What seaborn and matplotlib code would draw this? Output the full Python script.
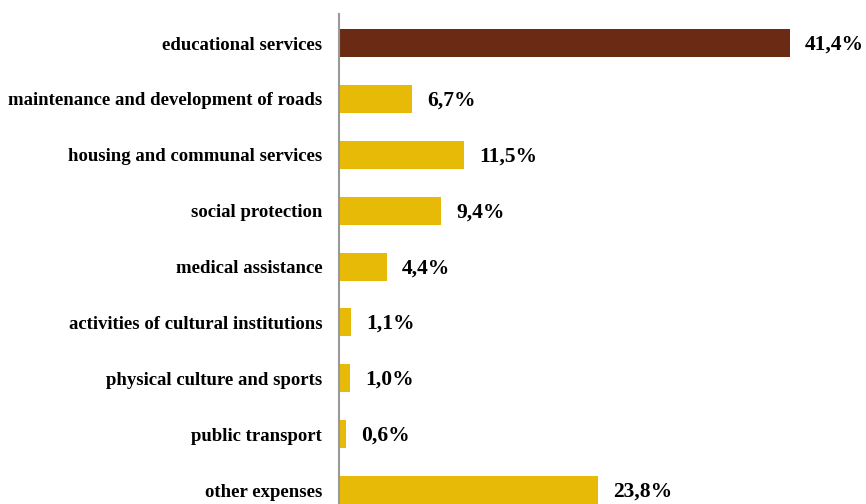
import matplotlib
matplotlib.use("Agg")
import matplotlib.pyplot as plt
import seaborn as sns
import pandas as pd

categories = [
    "educational services",
    "maintenance and development of roads",
    "housing and communal services",
    "social protection",
    "medical assistance",
    "activities of cultural institutions",
    "physical culture and sports",
    "public transport",
    "other expenses",
]
shares = [41.4, 6.7, 11.5, 9.4, 4.4, 1.1, 1.0, 0.6, 23.8]
value_labels = ["41,4%", "6,7%", "11,5%", "9,4%", "4,4%", "1,1%", "1,0%", "0,6%", "23,8%"]

brown = "#6B2A14"
gold = "#E6BA06"
colors = [brown] + [gold] * (len(categories) - 1)

df = pd.DataFrame({"category": categories, "share": shares})

sns.set_style("white")
plt.rcParams["font.family"] = ["Liberation Serif", "DejaVu Serif"]

fig = plt.figure(figsize=(8.66, 5.04), dpi=100)
ax = fig.add_axes([339 / 866, 0.0, 1 - 339 / 866, 490 / 504])

sns.barplot(data=df, x="share", y="category", hue="category", palette=colors,
            legend=False, width=0.5, ax=ax, saturation=1, linewidth=0)

ax.set_xlim(0, 48.4)
ax.set_ylim(8.25, -0.52)

for i, (v, lab) in enumerate(zip(shares, value_labels)):
    ax.text(v + 1.4, i + 0.03, lab, va="center", ha="left", fontsize=15.5,
            fontweight="bold", color="black")

ax.set_xlabel("")
ax.set_ylabel("")
ax.set_xticks([])
ax.tick_params(axis="y", length=0, pad=12, labelcolor="black")
for t in ax.get_yticklabels():
    t.set_fontsize(13.5)
    t.set_fontweight("bold")

for s in ["top", "right", "bottom"]:
    ax.spines[s].set_visible(False)
ax.spines["left"].set_color("#999999")
ax.spines["left"].set_linewidth(1.5)

fig.savefig("out.png", dpi=100)
